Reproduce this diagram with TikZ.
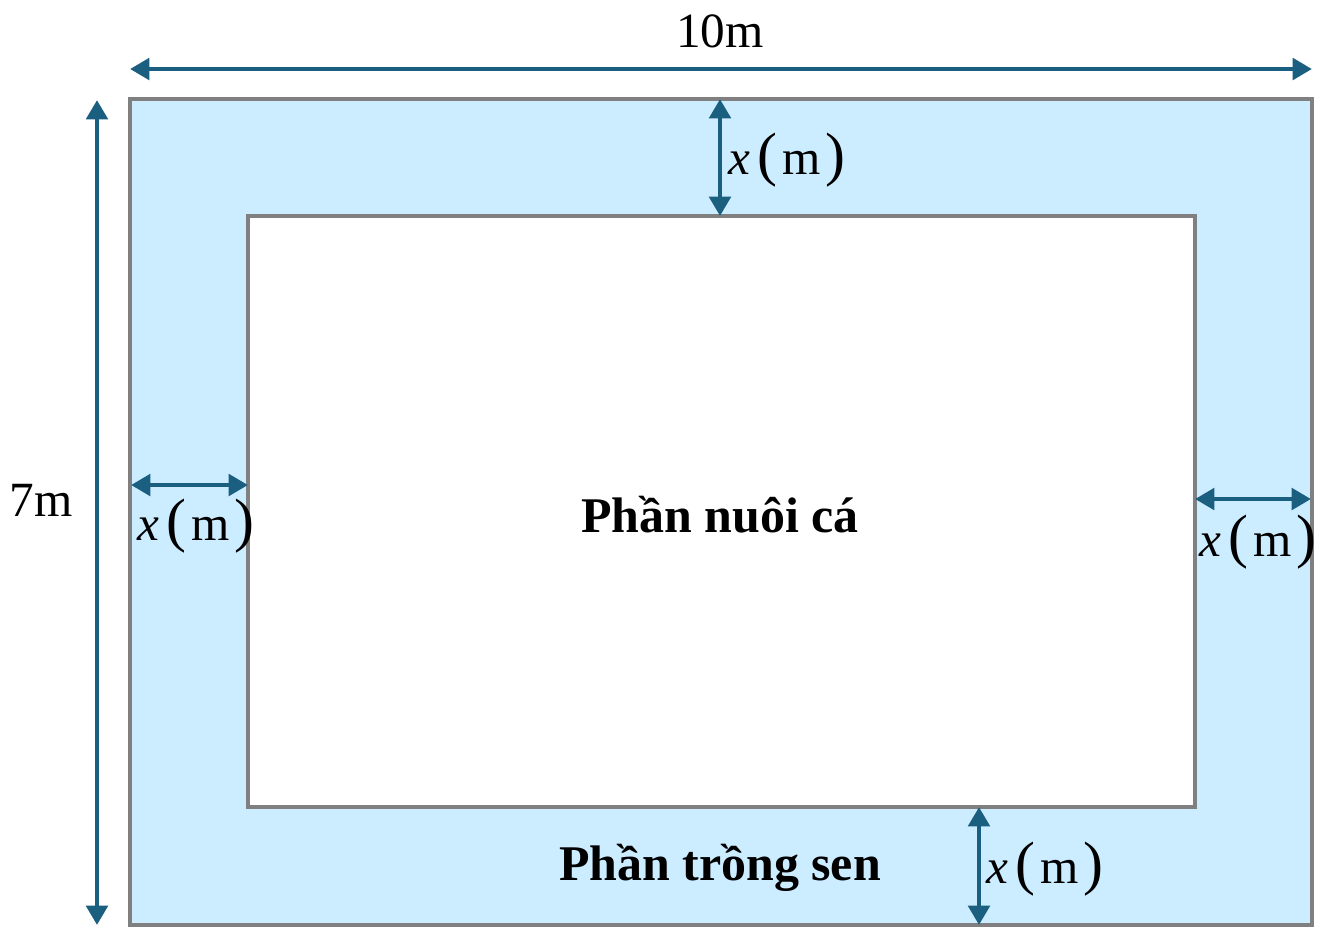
\documentclass[tikz,border=0pt]{standalone}
\usepackage{fontspec}
\setmainfont{Liberation Serif}
\usetikzlibrary{arrows.meta}
\definecolor{arrblue}{RGB}{26,94,128}
\definecolor{frame}{RGB}{128,128,128}
\definecolor{pond}{RGB}{204,236,255}
\newcommand{\xm}{{\itshape x}\kern2pt{\fontsize{17}{17}\selectfont(}\kern1.6pt m\kern1.4pt{\fontsize{17}{17}\selectfont)}}
\begin{document}
\begin{tikzpicture}[x=0.01cm,y=-0.01cm,
  dim/.style={draw=arrblue,line width=1.4pt,{Triangle[length=5.5pt,width=6pt]}-{Triangle[length=5.5pt,width=6pt]}},
  lbl/.style={font=\fontsize{14}{17}\selectfont,inner sep=0pt},
  bold/.style={font=\fontsize{14.2}{17}\selectfont\bfseries,inner sep=0pt}]
\useasboundingbox (0,0) rectangle (1331,944);
% outer and inner rectangles
\draw[frame,line width=1.4pt,fill=pond] (130,99) rectangle (1312,925);
\draw[frame,line width=1.4pt,fill=white] (248,216) rectangle (1195,807);
% coordinates
\coordinate (tL) at (130,69); \coordinate (tR) at (1312,69);
\coordinate (lT) at (97,100); \coordinate (lB) at (97,925);
\coordinate (uT) at (720,99); \coordinate (uB) at (720,216);
\coordinate (wL) at (131,485); \coordinate (wR) at (248,485);
\coordinate (eL) at (1195,499); \coordinate (eR) at (1311,499);
\coordinate (dT) at (979,807); \coordinate (dB) at (979,925);
% dimension arrows
\draw[dim] (tL) -- (tR);
\draw[dim] (lT) -- (lB);
\draw[dim] (uT) -- (uB);
\draw[dim] (wL) -- (wR);
\draw[dim] (eL) -- (eR);
\draw[dim] (dT) -- (dB);
% labels
\node[lbl] (l10) at (720,31) {10m};
\node[lbl] (l7) at (41,500) {7m};
\node[lbl] (xu) at (787,160) {\xm};
\node[lbl] (xw) at (196,526) {\xm};
\node[lbl] (xe) at (1258,542) {\xm};
\node[lbl] (xd) at (1045,869) {\xm};
\node[bold] (fish) at (720,515) {Phần nuôi cá};
\node[bold] (lotus) at (720,868) {Phần trồng sen};
\end{tikzpicture}
\end{document}
